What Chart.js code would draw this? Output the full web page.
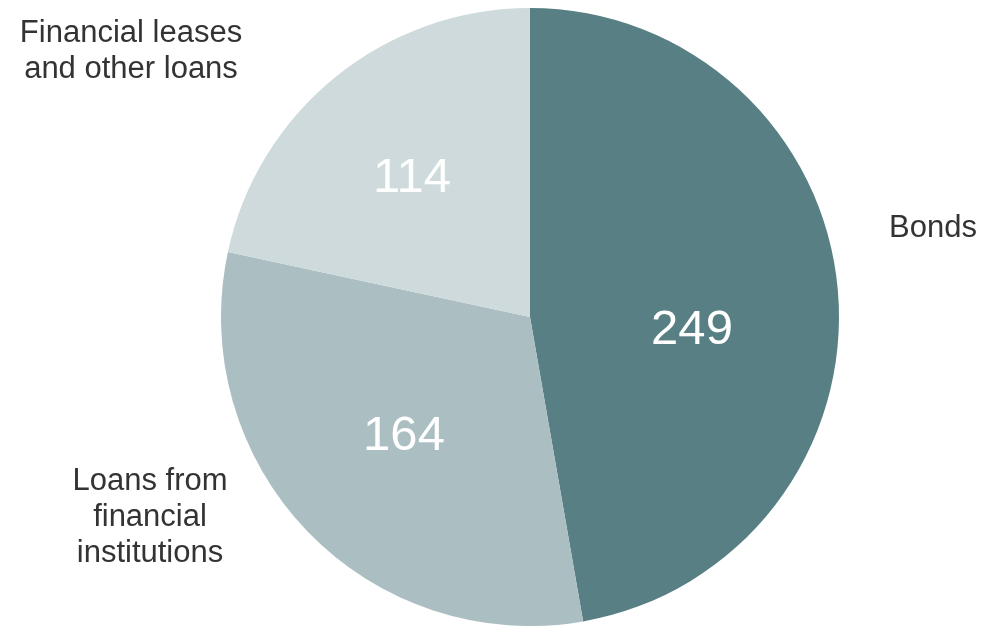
<!DOCTYPE html>
<html>
<head>
<meta charset="utf-8">
<script src="https://cdn.jsdelivr.net/npm/chart.js@4.4.1/dist/chart.umd.min.js"></script>
<style>
    html, body { margin: 0; padding: 0; background: #fff; }
    #wrap { width: 982px; height: 626px; }
</style>
</head>
<body>
<div id="wrap"><canvas id="debtPie" width="982" height="626"></canvas></div>
<script>
const categories = ['Bonds', 'Loans from financial institutions', 'Financial leases and other loans'];
const values = [249, 164, 114];
const sliceColors = ['#577f84', '#abbec2', '#cfdadc'];

// outer label lines and where they sit
const outerLabels = [
    { lines: ['Bonds'], x: 933, y: 228 },
    { lines: ['Loans from', 'financial', 'institutions'], x: 150, y: 481 },
    { lines: ['Financial leases', 'and other loans'], x: 131, y: 33 }
];
// value label offset from pie centre
const valueOffsets = [[162, 13], [-126, 119], [-118, -139]];

//* draw values inside slices + category names outside
const pieLabels = {
    id: 'pieLabels',
    afterDatasetsDraw(chart) {
        const ctx = chart.ctx;
        const meta = chart.getDatasetMeta(0);
        ctx.save();
        ctx.textAlign = 'center';
        ctx.textBaseline = 'middle';

        meta.data.forEach((arc, i) => {
            const p = arc.getProps(['x', 'y'], true);
            ctx.fillStyle = '#ffffff';
            ctx.font = '49px "Liberation Sans", Arial, sans-serif';
            ctx.fillText(String(values[i]), p.x + valueOffsets[i][0], p.y + valueOffsets[i][1]);
        });

        ctx.fillStyle = '#333333';
        ctx.font = '31px "Liberation Sans", Arial, sans-serif';
        outerLabels.forEach(lbl => {
            lbl.lines.forEach((line, j) => {
                ctx.fillText(line, lbl.x, lbl.y + j * 36);
            });
        });
        ctx.restore();
    }
};

const config = {
    type: 'pie',
    data: {
        labels: categories,
        datasets: [{
            data: values,
            backgroundColor: sliceColors,
            borderWidth: 0
        }]
    },
    options: {
        responsive: false,
        animation: false,
        layout: {
            padding: { top: 8, bottom: 0, left: 200, right: 122 }
        },
        plugins: {
            legend: { display: false },
            tooltip: { enabled: false }
        }
    },
    plugins: [pieLabels]
};

var myPie = new Chart(document.getElementById('debtPie'), config);
</script>
</body>
</html>
